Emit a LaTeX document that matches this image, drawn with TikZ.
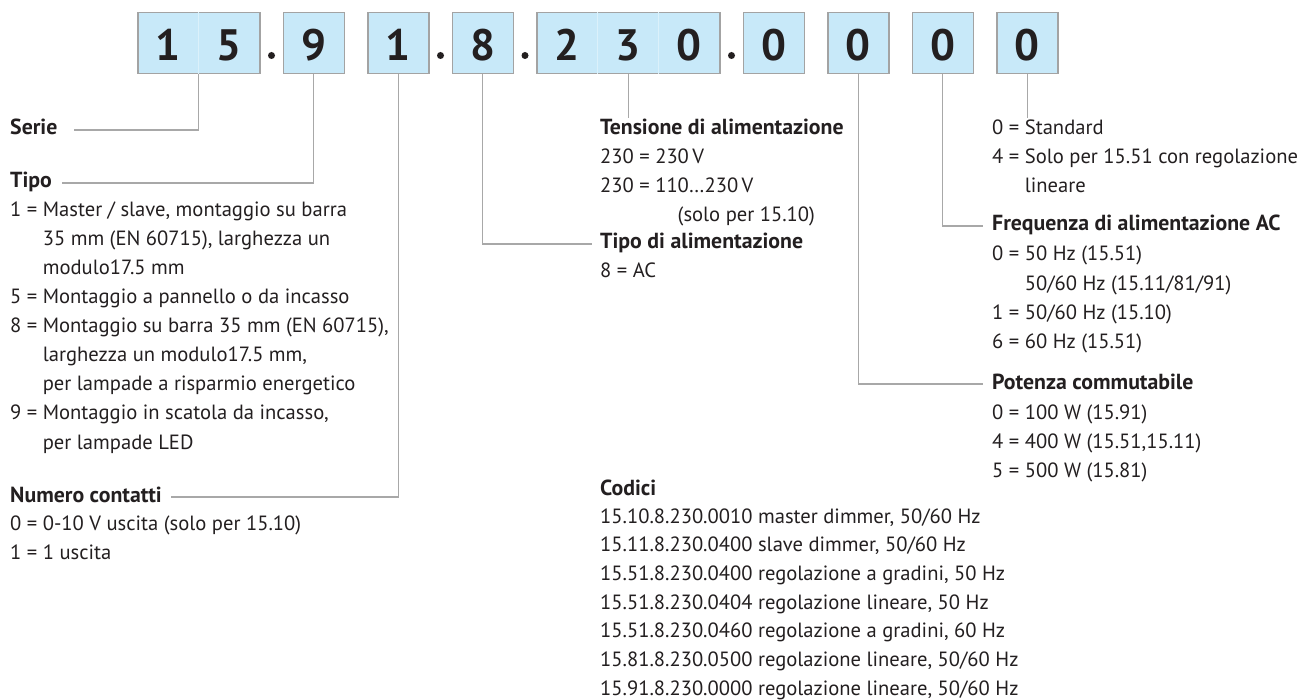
\documentclass[tikz,border=0pt]{standalone}
\usepackage{fontspec}
\setmainfont{PT Sans}
\usetikzlibrary{positioning}
\definecolor{cellblue}{HTML}{C8E9F9}
\definecolor{cellrim}{HTML}{A3A3A3}
\definecolor{wire}{HTML}{A8A8A8}
\definecolor{ink}{HTML}{231F20}
\newcommand{\valindent}{\phantom{0 = }}
\begin{document}
\begin{tikzpicture}[
    x=1pt, y=-1pt,
    cell/.style={draw=cellrim, line width=1.5pt, fill=cellblue, inner sep=0pt,
        minimum width=61pt, minimum height=61pt, text height=35pt, text depth=0pt,
        text=ink, font=\fontsize{44}{44}\selectfont\bfseries},
    split/.style={draw=cellblue!65!white, line width=0.6pt},
    sepdot/.style={circle, fill=ink, inner sep=0pt, minimum size=7pt},
    leader/.style={draw=wire, line width=1.2pt},
    head/.style={anchor=base west, inner sep=0pt, text height=14pt, text depth=4pt,
        text=ink, font=\fontsize{21.8}{29}\selectfont\bfseries},
    entry/.style={head, font=\fontsize{20.6}{29}\selectfont},
    ]
    \useasboundingbox (0,0) rectangle (1301,700);

    % code boxes
    \node[cell, minimum width=122pt, anchor=north west] (b15) at (137,12)
        {\makebox[61pt]{1}\makebox[61pt]{5}};
    \node[cell, right=22pt of b15] (b9) {9};
    \node[cell, right=22pt of b9] (b1) {1};
    \node[cell, right=22pt of b1] (b8) {8};
    \node[cell, minimum width=183pt, right=22pt of b8] (b230)
        {\makebox[61pt]{2}\makebox[61pt]{3}\makebox[61pt]{0}};
    \node[cell, right=22pt of b230] (b0a) {0};
    \node[cell, right=22pt of b0a] (b0b) {0};
    \node[cell, right=22pt of b0b] (b0c) {0};
    \node[cell, right=22pt of b0c] (b0d) {0};
    \draw[split] ([xshift=61pt]b15.north west) -- ([xshift=61pt]b15.south west);
    \foreach \k in {1,2}
        \draw[split] ([xshift=61*\k pt]b230.north west) -- ([xshift=61*\k pt]b230.south west);

    % dots
    \node[sepdot] (d1) at ([xshift=11pt,yshift=19pt]b15.south east) {};
    \node[sepdot] (d2) at ([xshift=11pt,yshift=19pt]b1.south east) {};
    \node[sepdot] (d3) at ([xshift=11pt,yshift=19pt]b8.south east) {};
    \node[sepdot] (d4) at ([xshift=11pt,yshift=19pt]b230.south east) {};

    % left column
    \node[head] (serie) at (10,135) {Serie};
    \node[head] (tipo) at (10,188) {Tipo};
    \foreach \txt [count=\i from 0] in {
        {1 = Master / slave, montaggio su barra},
        {\valindent 35 mm (EN 60715), larghezza un},
        {\valindent modulo17.5 mm},
        {5 = Montaggio a pannello o da incasso},
        {8 = Montaggio su barra 35 mm (EN 60715),},
        {\valindent larghezza un modulo17.5 mm,},
        {\valindent per lampade a risparmio energetico},
        {9 = Montaggio in scatola da incasso,},
        {\valindent per lampade LED}}
        \node[entry] (tipo-\i) at (10,217+29*\i) {\txt};
    \node[head] (contatti) at (10,502) {Numero contatti};
    \foreach \txt [count=\i from 0] in {
        {0 = 0-10 V uscita (solo per 15.10)},
        {1 = 1 uscita}}
        \node[entry] (contatti-\i) at (10,530+29*\i) {\txt};

    % middle column
    \node[head] (tensione) at (600,135) {Tensione di alimentazione};
    \foreach \txt [count=\i from 0] in {
        {230 = 230\,V},
        {230 = 110…230\,V},
        {\phantom{230 = 11}(solo per 15.10)}}
        \node[entry] (tensione-\i) at (600,164+29*\i) {\txt};
    \node[head] (alim) at (600,249) {Tipo di alimentazione};
    \node[entry] (alim-0) at (600,278) {8 = AC};
    \node[head] (codici) at (600,495) {Codici};
    \foreach \txt [count=\i from 0] in {
        {15.10.8.230.0010 master dimmer, 50/60 Hz},
        {15.11.8.230.0400 slave dimmer, 50/60 Hz},
        {15.51.8.230.0400 regolazione a gradini, 50 Hz},
        {15.51.8.230.0404 regolazione lineare, 50 Hz},
        {15.51.8.230.0460 regolazione a gradini, 60 Hz},
        {15.81.8.230.0500 regolazione lineare, 50/60 Hz},
        {15.91.8.230.0000 regolazione lineare, 50/60 Hz}}
        \node[entry] (codici-\i) at (600,523+28.7*\i) {\txt};

    % right column
    \foreach \txt [count=\i from 0] in {
        {0 = Standard},
        {4 = Solo per 15.51 con regolazione},
        {\valindent lineare}}
        \node[entry] (variante-\i) at (992,135+29*\i) {\txt};
    \node[head] (freq) at (992,231) {Frequenza di alimentazione AC};
    \foreach \txt [count=\i from 0] in {
        {0 = 50 Hz (15.51)},
        {\valindent 50/60 Hz (15.11/81/91)},
        {1 = 50/60 Hz (15.10)},
        {6 = 60 Hz (15.51)}}
        \node[entry] (freq-\i) at (992,261+29.3*\i) {\txt};
    \node[head] (potenza) at (992,389) {Potenza commutabile};
    \foreach \txt [count=\i from 0] in {
        {0 = 100 W (15.91)},
        {4 = 400 W (15.51,15.11)},
        {5 = 500 W (15.81)}}
        \node[entry] (potenza-\i) at (992,419+29*\i) {\txt};

    % leaders
    \draw[leader] (b15.south) |- ([xshift=16pt]serie.east);
    \draw[leader] (b9.south) |- ([xshift=10pt]tipo.east);
    \draw[leader] (b1.south) |- ([xshift=9pt]contatti.east);
    \draw[leader] (b8.south) |- ([xshift=-8pt]alim.west);
    \draw[leader] (b230.south) -- ([yshift=3pt]b230.south |- tensione.north);
    \draw[leader] (b0b.south) |- ([xshift=-9pt]potenza.west);
    \draw[leader] (b0c.south) |- ([xshift=-9pt]freq.west);
    \draw[leader] (b0d.south) -- ([yshift=3pt]b0d.south |- variante-0.north);
\end{tikzpicture}
\end{document}
